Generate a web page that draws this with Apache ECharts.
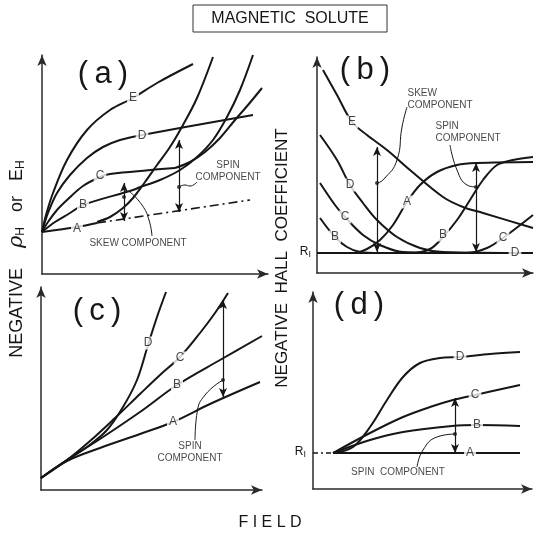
<!DOCTYPE html>
<html><head><meta charset="utf-8">
<script src="https://cdn.jsdelivr.net/npm/echarts@6/dist/echarts.min.js"></script>
<style>html,body{margin:0;padding:0;background:#fff}#c{width:534px;height:535px}</style>
</head><body><div id="c"></div>
<script>
// ---------- panel (a): negative rho_H or E_H vs field ----------
const aE = [[0,42],[4,59],[11,81],[25,114],[45,144],[68,164],[91,176],[115,191],[151,210]];
const aD = [[0,42],[6,61],[15,81],[28,99],[45,116],[61,127],[78,134],[100,139],[211,159]];
const aC = [[0,42],[6,52],[15,64],[25,74],[41,88],[58,97],[68,100],[133,106]];
const aChigh = [[133,106],[148,112],[163,122],[178,136],[193,154],[206,169],[220,186]];
const aB = [[0,42],[13,52],[28,61],[41,69],[91,84],[98,87]];
const aBhigh = [[98,87],[118,94],[138,104],[155,117],[171,134],[185,157],[198,184],[211,219]];
const aA = [[0,42],[35,47],[55,51]];
const aAskew = [[55,51],[208,74]];
const aAhigh = [[55,52],[68,57],[81,66],[91,76],[103,92],[115,109],[128,127],[141,149],[155,176],[171,217]];
const aLabels = [[91,176,'E'],[100,138,'D'],[58,98,'C'],[41,69,'B'],[35,45,'A']];
const aSkewArrow = [82,91,53]; const aSkewDots = [[82,77]];
const aSpinArrow = [137,134,62]; const aSpinDots = [[137,87]];
const aSkewLeader = [[88,82],[100,69],[107,54],[110,38]];
const aSpinLeader = [[137,87],[143,89],[148,88],[155,92]];
// ---------- panel (b): negative Hall coefficient vs field ----------
const bA = [[0,20],[36,20],[50,24],[63,33],[76,48],[90,71],[103,88],[120,101],[140,108],[160,110],[216,111]];
const bB = [[3,55],[18,36],[30,26],[43,21],[63,20],[93,20],[113,24],[126,36],[140,53],[153,73],[166,93],[180,108],[196,113],[216,116]];
const bC = [[3,90],[18,68],[28,56],[46,38],[63,28],[86,21],[150,20],[170,25],[186,35],[216,58]];
const bD = [[3,138],[20,113],[33,88],[46,70],[60,53],[80,36],[103,25],[126,21],[216,20]];
const bE = [[6,203],[20,178],[35,151],[50,138],[70,123],[93,103],[126,76],[146,66],[166,60],[216,45]];
const bLabels = [[35,151,'E'],[33,88,'D'],[28,56,'C'],[18,36,'B'],[90,71,'A'],[126,38,'B'],[186,35,'C'],[198,20,'D']];
const bSkewArrow = [60,126,21]; const bSkewDots = [[60,90]];
const bSpinArrow = [159,110,21]; const bSpinDots = [[159,86]];
const bSkewLeader = [[60,90],[66,93],[80,113],[85,146],[90,166]];
const bSpinLeader = [[133,128],[140,103],[150,88],[159,86]];
// ---------- panel (c) ----------
const cA = [[0,12],[26,29],[59,42],[99,56],[132,68],[169,86],[219,108]];
const cB = [[0,12],[26,30],[59,51],[99,78],[136,105],[179,130],[221,154]];
const cC = [[0,12],[26,30],[49,49],[74,72],[99,96],[119,115],[139,133],[159,157],[174,177],[187,197]];
const cD = [[0,12],[26,30],[46,43],[66,60],[82,83],[96,110],[107,145],[116,173],[125,198]];
const cLabels = [[107,147,'D'],[139,132,'C'],[136,105,'B'],[132,68,'A']];
const cSpinArrow = [182,190,93]; const cSpinDots = [[182,110]];
const cSpinLeader = [[182,110],[164,95],[156,77],[154,50]];
// ---------- panel (d) ----------
const dR1dash = [[0,36],[20,36]];
const dA = [[20,36],[207,36]];
const dB = [[20,36],[57,49],[90,57],[139,63],[164,64],[207,63]];
const dC = [[20,36],[57,56],[90,72],[117,82],[140,89],[162,94],[207,104]];
const dD = [[20,36],[40,42],[57,62],[74,89],[90,112],[107,126],[127,131],[147,132],[177,135],[207,137]];
const dLabels = [[147,132,'D'],[162,94,'C'],[164,64,'B'],[157,36,'A']];
const dSpinArrow = [142,91,36]; const dSpinDots = [[142,55]];
const dSpinLeader = [[142,55],[124,52],[110,39],[104,22]];

const F = '"Liberation Sans", Arial, sans-serif';
const INK = '#161616';
const grids = [
  {left:42, top:55, width:226, height:219},
  {left:317, top:57, width:216, height:216},
  {left:41, top:287, width:221, height:203},
  {left:313, top:292, width:219, height:197}
];
const axisLine = {show:true, onZero:false, symbol:['none','arrow'], symbolSize:[7,11], lineStyle:{color:'#2a2a2a', width:1.5}};
const xAxis = grids.map((g,i)=>({gridIndex:i, type:'value', min:0, max:g.width, axisLine, axisTick:{show:false}, axisLabel:{show:false}, splitLine:{show:false}}));
const yAxis = grids.map((g,i)=>({gridIndex:i, type:'value', min:0, max:g.height, axisLine, axisTick:{show:false}, axisLabel:{show:false}, splitLine:{show:false}}));

const series = [];
function curve(i, data, extra) {
  series.push(Object.assign({type:'line', xAxisIndex:i, yAxisIndex:i, data, smooth:0.35, symbol:'none', z:3, clip:false,
    lineStyle:{color:INK, width:2}}, extra||{}));
}
function leader(i, data) {
  curve(i, data, {lineStyle:{color:INK, width:1}, smooth:0.5, z:4});
}
function arrow(i, a) {
  series.push({type:'line', xAxisIndex:i, yAxisIndex:i, data:[], z:4,
    markLine:{silent:true, symbol:['arrow','arrow'], symbolSize:[6,9], animation:false,
      lineStyle:{color:INK, width:1.2, type:'solid'}, label:{show:false},
      data:[[{coord:[a[0],a[1]]},{coord:[a[0],a[2]]}]]}});
}
function dots(i, data) {
  series.push({type:'scatter', xAxisIndex:i, yAxisIndex:i, data, symbolSize:4, itemStyle:{color:INK}, z:6});
}
function labels(i, data) {
  series.push({type:'scatter', xAxisIndex:i, yAxisIndex:i, symbolSize:1, clip:false, z:10,
    itemStyle:{color:'rgba(0,0,0,0)'},
    label:{show:true, position:'inside', formatter:'{b}', color:INK, fontSize:12, fontFamily:F,
      backgroundColor:'#fff', padding:[1,2,0,2]},
    data:data.map(d=>({name:d[2], value:[d[0],d[1]]}))});
}
function note(i, x, y, text, pos, align) {
  series.push({type:'scatter', xAxisIndex:i, yAxisIndex:i, symbolSize:1, clip:false, z:10,
    itemStyle:{color:'rgba(0,0,0,0)'},
    label:{show:true, position:pos||'inside', distance:0, formatter:text, color:INK, fontSize:10, fontFamily:F,
      align:align||'center', lineHeight:12},
    data:[{value:[x,y]}]});
}

// (a)
curve(0,aE); curve(0,aD); curve(0,aC); curve(0,aChigh); curve(0,aB); curve(0,aBhigh);
curve(0,aA); curve(0,aAhigh);
curve(0,aAskew,{smooth:false, lineStyle:{color:INK,width:1.6,type:[9,4,2,4]}});
labels(0,aLabels);
arrow(0,aSkewArrow); dots(0,aSkewDots); arrow(0,aSpinArrow); dots(0,aSpinDots);
leader(0,aSkewLeader); leader(0,aSpinLeader);
note(0,96,31,'SKEW COMPONENT');
note(0,186,103,'SPIN\nCOMPONENT');
// (b)
const bR1 = [[0,20],[216,20]];
curve(1,bR1,{smooth:false}); curve(1,bA); curve(1,bB); curve(1,bC); curve(1,bD); curve(1,bE);
labels(1,bLabels);
arrow(1,bSkewArrow); dots(1,bSkewDots); arrow(1,bSpinArrow); dots(1,bSpinDots);
leader(1,bSkewLeader); leader(1,bSpinLeader);
note(1,90,174,'SKEW\nCOMPONENT','right','left');
note(1,118,141,'SPIN\nCOMPONENT','right','left');
// (c)
curve(2,cA); curve(2,cB); curve(2,cC); curve(2,cD);
labels(2,cLabels);
arrow(2,cSpinArrow); dots(2,cSpinDots); leader(2,cSpinLeader);
note(2,149,38,'SPIN\nCOMPONENT');
// (d)
curve(3,dR1dash,{smooth:false, lineStyle:{color:INK,width:1.5,type:[5,3,2,3]}});
curve(3,dA,{smooth:false}); curve(3,dB); curve(3,dC); curve(3,dD);
labels(3,dLabels);
arrow(3,dSpinArrow); dots(3,dSpinDots); leader(3,dSpinLeader);
note(3,85,17,'SPIN  COMPONENT');

const sub = {s:{fontSize:12, fontFamily:F, padding:[8,0,0,0], fill:INK}, r:{fontSize:21, fontFamily:'"DejaVu Serif", serif', fontStyle:'italic', fill:INK}};
const graphic = [
  {type:'rect', shape:{x:193, y:5, width:194, height:27}, style:{fill:'#fff', stroke:'#333', lineWidth:1}},
  {type:'text', x:290, y:19, style:{text:'MAGNETIC  SOLUTE', font:'16px '+F, fill:INK, align:'center', verticalAlign:'middle'}},
  {type:'text', x:103, y:74, style:{text:'(\u2009a\u2009)', font:'31px '+F, fill:INK, align:'center', verticalAlign:'middle'}},
  {type:'text', x:365, y:70, style:{text:'(\u2009b\u2009)', font:'31px '+F, fill:INK, align:'center', verticalAlign:'middle'}},
  {type:'text', x:97, y:311, style:{text:'(\u2009c\u2009)', font:'31px '+F, fill:INK, align:'center', verticalAlign:'middle'}},
  {type:'text', x:359, y:305, style:{text:'(\u2009d\u2009)', font:'31px '+F, fill:INK, align:'center', verticalAlign:'middle'}},
  {type:'text', x:17, y:259, rotation:Math.PI/2, style:{text:'NEGATIVE    {r|ρ}{s|H}   or   E{s|H}', rich:sub, font:'18px '+F, fill:INK, align:'center', verticalAlign:'middle'}},
  {type:'text', x:282, y:258, rotation:Math.PI/2, style:{text:'NEGATIVE  HALL  COEFFICIENT', font:'17px '+F, fill:INK, align:'center', verticalAlign:'middle'}},
  {type:'text', x:270, y:523, style:{text:'F I E L D', font:'16px '+F, fill:INK, align:'center', verticalAlign:'middle'}},
  {type:'text', x:311, y:252, style:{text:'R{s|I}', rich:{s:{fontSize:9, fontFamily:F, padding:[6,0,0,0], fill:INK}}, font:'12px '+F, fill:INK, align:'right', verticalAlign:'middle'}},
  {type:'text', x:306, y:452, style:{text:'R{s|I}', rich:{s:{fontSize:9, fontFamily:F, padding:[6,0,0,0], fill:INK}}, font:'12px '+F, fill:INK, align:'right', verticalAlign:'middle'}}
];

const chart = echarts.init(document.getElementById('c'), null, {renderer:'canvas'});
chart.setOption({animation:false, backgroundColor:'#fff', grid:grids, xAxis, yAxis, series, graphic});
</script>
</body></html>
